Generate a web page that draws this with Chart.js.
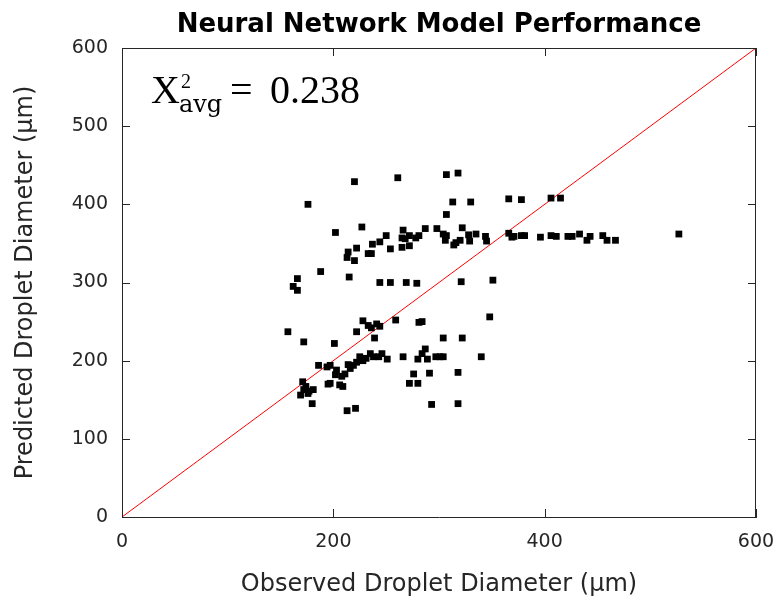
<!DOCTYPE html>
<html>
<head>
<meta charset="utf-8">
<script src="https://cdn.jsdelivr.net/npm/chart.js@4.4.0/dist/chart.umd.min.js"></script>
<style>
  html, body { margin: 0; padding: 0; background: #fff; }
</style>
</head>
<body>
<canvas id="chart_nn_performance" width="781" height="606"></canvas>
<script>
// observed vs predicted droplet diameter (um)
const observed = [
  176, 220, 261, 307, 318, 313, 330, 366, 378, 406, 415, 307,
  202, 227, 214, 213, 222, 220, 233, 236, 237, 244, 250, 254, 265, 266, 265, 268, 272, 272,
  278, 281, 287, 298, 304, 307, 306, 314, 316, 320, 322, 328, 329, 335, 344, 345,
  366, 369, 371, 378, 381, 396, 406, 411, 422, 426, 433, 440, 443, 455, 459, 467, 527,
  215, 321, 351, 244, 254, 269, 279, 188, 166, 162, 166,
  157, 172, 348, 281, 284, 259, 228, 222, 233, 236, 241, 244, 239, 201, 304, 322,
  186, 194, 195, 171, 174, 172, 177, 181, 176, 169, 180,
  197, 203, 202, 208, 211, 216, 219, 222, 206, 209, 197, 228, 231, 214,
  225, 235, 238, 243, 246, 251, 266, 280, 284, 287, 289, 297, 301, 304, 340,
  276, 291, 272, 280, 318, 213, 221, 293, 318
];
const predicted = [
  400, 429, 434, 438, 440, 403, 403, 407, 406, 408, 408, 387,
  364, 371, 339, 332, 344, 328, 337, 337, 349, 352, 360, 343, 345, 367, 357, 356, 360, 347,
  357, 360, 369, 369, 362, 360, 354, 348, 351, 354, 370, 361, 353, 362, 359, 353,
  363, 358, 359, 360, 360, 358, 360, 359, 359, 359, 362, 354, 359, 360, 354, 354, 362,
  307, 301, 303, 300, 300, 300, 299, 314, 305, 295, 290,
  237, 224, 256, 249, 250, 252, 251, 237, 245, 242, 247, 244, 229, 222, 229, 229,
  194, 192, 170, 173, 167, 163, 161, 163, 158, 156, 145,
  194, 188, 182, 180, 183, 190, 194, 198, 169, 167, 171, 200, 203, 195,
  205, 209, 205, 205, 209, 202, 205, 202, 209, 215, 202, 205, 205, 205, 205,
  183, 184, 171, 171, 185, 136, 139, 144, 145
];

// perfect-prediction reference line y = x
const refLineX = [0, 600];
const refLineY = [0, 600];

const xTicks = [0, 200, 400, 600];
const yTicks = [0, 100, 200, 300, 400, 500, 600];

const chartTitle = "Neural Network Model Performance";
const xTitle = "Observed Droplet Diameter (\u03bcm)";
const yTitle = "Predicted Droplet Diameter (\u03bcm)";

const axisColor = "#262626";
const tickLen = 8;

const scatterPoints = observed.map((v, i) => ({ x: v, y: predicted[i] }));
const linePoints = refLineX.map((v, i) => ({ x: v, y: refLineY[i] }));

// title, top/right frame, inward ticks and the chi-square note
const framePlugin = {
  id: "framePlugin",
  afterDatasetsDraw(chart) {
    const { ctx, chartArea: a, scales } = chart;
    ctx.save();
    ctx.strokeStyle = axisColor;
    ctx.lineWidth = 1;
    ctx.beginPath();
    ctx.moveTo(a.left, a.top + 0.5);
    ctx.lineTo(a.right, a.top + 0.5);
    ctx.moveTo(a.right - 0.5, a.top);
    ctx.lineTo(a.right - 0.5, a.bottom);
    xTicks.forEach(v => {
      const px = Math.round(scales.x.getPixelForValue(v)) + 0.5;
      ctx.moveTo(px, a.bottom);
      ctx.lineTo(px, a.bottom - tickLen);
      ctx.moveTo(px, a.top);
      ctx.lineTo(px, a.top + tickLen);
    });
    yTicks.forEach(v => {
      const py = Math.round(scales.y.getPixelForValue(v)) + 0.5;
      ctx.moveTo(a.left, py);
      ctx.lineTo(a.left + tickLen, py);
      ctx.moveTo(a.right, py);
      ctx.lineTo(a.right - tickLen, py);
    });
    ctx.stroke();

    // title centred over the plot box
    ctx.fillStyle = "#000";
    ctx.font = "bold 26px 'DejaVu Sans'";
    ctx.textAlign = "center";
    ctx.textBaseline = "middle";
    ctx.fillText(chartTitle, (a.left + a.right) / 2, 25);

    // X^2_avg = 0.238
    ctx.textAlign = "left";
    ctx.textBaseline = "alphabetic";
    const bx = a.left + 29, by = a.top + 55;
    ctx.font = "40px 'Liberation Serif'";
    ctx.fillText("X", bx, by);
    ctx.font = "20px 'Liberation Serif'";
    ctx.fillText("2", bx + 30, by - 15);
    ctx.font = "24px 'DejaVu Serif'";
    ctx.fillText("avg", bx + 28, by + 9);
    ctx.font = "40px 'Liberation Serif'";
    ctx.fillText("=", bx + 79, by);
    ctx.fillText("0.238", bx + 119, by);
    ctx.restore();
  }
};

const ctx_nn = document.getElementById("chart_nn_performance");

new Chart(ctx_nn, {
  type: "scatter",
  data: {
    datasets: [
      {
        type: "scatter",
        label: "Predictions",
        data: scatterPoints,
        pointStyle: "rect",
        pointRadius: 4.8,
        pointHoverRadius: 4.8,
        pointBorderWidth: 0,
        backgroundColor: "#000",
        order: 1
      },
      {
        type: "line",
        label: "y = x",
        data: linePoints,
        borderColor: "#ff0000",
        borderWidth: 1,
        pointRadius: 0,
        fill: false,
        order: 2
      }
    ]
  },
  options: {
    responsive: false,
    animation: false,
    devicePixelRatio: 1,
    events: [],
    layout: { padding: { top: 48, right: 25, left: 0, bottom: 0 } },
    plugins: {
      legend: { display: false },
      tooltip: { enabled: false },
      title: { display: false }
    },
    scales: {
      x: {
        type: "linear",
        min: 0,
        max: 600,
        afterBuildTicks: s => { s.ticks = xTicks.map(v => ({ value: v })); },
        afterFit: s => { s.height = 89; s.paddingLeft = 0; s.paddingRight = 0; },
        grid: { display: false, drawTicks: false },
        border: { display: true, color: axisColor, width: 1 },
        ticks: {
          color: axisColor,
          padding: 14,
          maxRotation: 0,
          font: { family: "DejaVu Sans", size: 19 }
        },
        title: {
          display: true,
          text: xTitle,
          color: axisColor,
          padding: { top: 4, bottom: 7 },
          font: { family: "DejaVu Sans", size: 24 }
        }
      },
      y: {
        type: "linear",
        min: 0,
        max: 600,
        afterBuildTicks: s => { s.ticks = yTicks.map(v => ({ value: v })); },
        afterFit: s => { s.width = 122; s.paddingTop = 0; s.paddingBottom = 0; },
        grid: { display: false, drawTicks: false },
        border: { display: true, color: axisColor, width: 1 },
        ticks: {
          color: axisColor,
          padding: 14,
          font: { family: "DejaVu Sans", size: 19 }
        },
        title: {
          display: true,
          text: yTitle,
          color: axisColor,
          padding: { top: 11, bottom: 4 },
          font: { family: "DejaVu Sans", size: 24 }
        }
      }
    }
  },
  plugins: [framePlugin]
});
</script>
</body>
</html>
